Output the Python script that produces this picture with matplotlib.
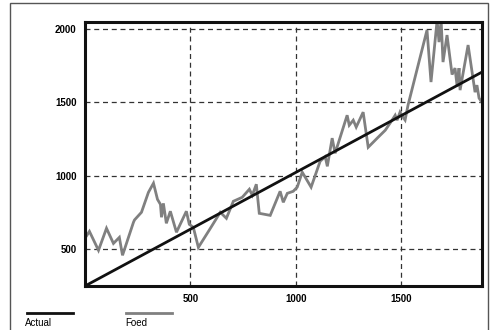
import matplotlib
matplotlib.use("Agg")
import matplotlib.pyplot as plt
from matplotlib.lines import Line2D
from matplotlib.patches import Rectangle

plt.rcParams["font.family"] = ["Liberation Sans", "DejaVu Sans"]

# trend ("Actual") end points
actual_x = [0, 1884]
actual_y = [250, 1707]

# noisy series ("Foed")
foed_x = [0, 21, 64, 102, 135, 163, 178, 230, 235, 268, 301, 325, 344, 358, 363,
          372, 386, 405, 434, 481, 495, 514, 538, 595, 642, 671, 704, 746, 780,
          794, 813, 827, 879, 926, 941, 960, 988, 1007, 1031, 1073, 1116, 1140,
          1150, 1173, 1187, 1244, 1254, 1273, 1287, 1320, 1344, 1391, 1425, 1457,
          1472, 1481, 1495, 1509, 1519, 1533, 1623, 1642, 1671, 1680, 1690, 1699,
          1718, 1742, 1756, 1766, 1775, 1780, 1818, 1851, 1860, 1870, 1884]
foed_y = [575, 622, 493, 643, 540, 581, 459, 684, 700, 752, 888, 950, 840, 806, 718,
          813, 677, 759, 616, 759, 670, 650, 513, 643, 752, 711, 827, 854, 909,
          868, 943, 745, 731, 895, 820, 881, 895, 923, 1025, 923, 1100, 1130,
          1065, 1257, 1154, 1413, 1345, 1379, 1332, 1434, 1195, 1263, 1311, 1379,
          1413, 1379, 1434, 1400, 1380, 1482, 1993, 1639, 2060, 1911, 2060, 1775,
          1959, 1690, 1734, 1610, 1734, 1584, 1891, 1570, 1618, 1530, 1500]

xticks = [500, 1000, 1500]
yticks = [500, 1000, 1500, 2000]

fig = plt.figure(figsize=(4.94, 3.30), dpi=100)
ax = fig.add_axes([85 / 494, 1 - 286 / 330, 397 / 494, 264 / 330])

ax.plot(foed_x, foed_y, color="#808080", lw=2.0, solid_joinstyle="miter")
ax.plot(actual_x, actual_y, color="#111111", lw=2.0)

ax.set_xlim(0, 1884)
ax.set_ylim(250, 2048)
ax.set_xticks(xticks)
ax.set_yticks(yticks)
ax.tick_params(length=0, labelsize=7, pad=6)
for lab in ax.get_xticklabels() + ax.get_yticklabels():
    lab.set_fontweight("bold")
ax.grid(True, color="#333333", ls=(0, (4, 3)), lw=0.9)
for s in ax.spines.values():
    s.set_linewidth(2.2)
    s.set_color("#111111")

# outer frame
fig.patches.append(Rectangle((10 / 494, -0.1), 478 / 494, 1.09,
                             transform=fig.transFigure, fill=False,
                             edgecolor="#555555", lw=1.0))

# legend drawn below the plot
fig.lines.append(Line2D([27 / 494, 73 / 494], [1 - 313 / 330] * 2,
                        transform=fig.transFigure, color="#111111", lw=2.0))
fig.lines.append(Line2D([126 / 494, 172 / 494], [1 - 313 / 330] * 2,
                        transform=fig.transFigure, color="#808080", lw=2.0))
fig.text(25 / 494, 1 - 323 / 330, "Actual", fontsize=7, va="center")
fig.text(125 / 494, 1 - 323 / 330, "Foed", fontsize=7, va="center")

fig.savefig("out.png", dpi=100)
